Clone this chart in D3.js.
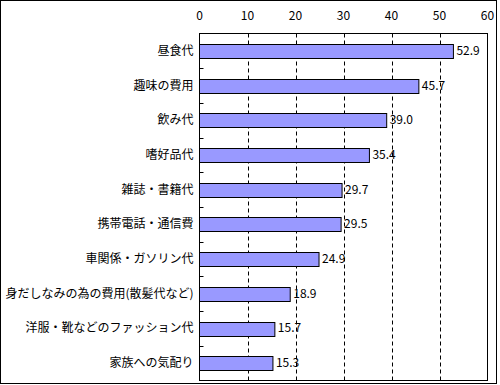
<!DOCTYPE html>
<html>
<head>
<meta charset="utf-8">
<script src="https://cdn.jsdelivr.net/npm/d3@7"></script>
<style>
  body { margin: 0; background: #fff; }
  text { font-family: "Noto Sans CJK JP", sans-serif; font-size: 12px; fill: #000; }
</style>
</head>
<body>
<svg id="chart" width="500" height="385"></svg>
<script>
const categories = ['昼食代', '趣味の費用', '飲み代', '嗜好品代', '雑誌・書籍代', '携帯電話・通信費',
  '車関係・ガソリン代', '身だしなみの為の費用(散髪代など)', '洋服・靴などのファッション代', '家族への気配り'];
const values = [52.9, 45.7, 39.0, 35.4, 29.7, 29.5, 24.9, 18.9, 15.7, 15.3];
const tickValues = [0, 10, 20, 30, 40, 50, 60];

const svg = d3.select('#chart');
const plot = {left: 199.5, right: 487.5, top: 33.5, bottom: 380.5};

// whole-image frame
svg.append('rect').attr('x', 0.5).attr('y', 0.5).attr('width', 496).attr('height', 383)
   .attr('fill', 'none').attr('stroke', '#000');

const x = d3.scaleLinear().domain([0, 60]).range([plot.left, plot.right]);
const y = d3.scaleBand().domain(categories).range([plot.top, plot.bottom]).paddingInner(0.6).paddingOuter(0.3);

// dashed grid
svg.append('g').selectAll('line').data(tickValues.slice(1, -1)).enter().append('line')
   .attr('x1', d => Math.round(x(d)) + 0.5).attr('x2', d => Math.round(x(d)) + 0.5)
   .attr('y1', plot.top).attr('y2', plot.bottom)
   .attr('stroke', '#000').attr('stroke-dasharray', '4,3');

// top axis labels
svg.append('g').selectAll('text').data(tickValues).enter().append('text')
   .attr('x', d => x(d)).attr('y', 20).attr('text-anchor', 'middle').text(d => d);

// bars
svg.append('g').selectAll('rect').data(values).enter().append('rect')
   .attr('x', x(0)).attr('y', (d, i) => Math.round(y(categories[i])) + 0.5)
   .attr('width', d => x(d) - x(0)).attr('height', Math.round(y.bandwidth()))
   .attr('fill', '#9999ff').attr('stroke', '#000');

// value labels
svg.append('g').selectAll('text').data(values).enter().append('text')
   .attr('x', d => x(d) + 3).attr('y', (d, i) => y(categories[i]) + y.bandwidth() / 2 + 4)
   .text(d => d.toFixed(1));

// plot frame
svg.append('rect').attr('x', plot.left).attr('y', plot.top)
   .attr('width', plot.right - plot.left).attr('height', plot.bottom - plot.top)
   .attr('fill', 'none').attr('stroke', '#000');

// category ticks between bands
const step = (plot.bottom - plot.top) / categories.length;
svg.append('g').selectAll('line').data(d3.range(1, categories.length)).enter().append('line')
   .attr('x1', plot.left).attr('x2', plot.left + 4)
   .attr('y1', i => Math.round(plot.top + i * step) + 0.5).attr('y2', i => Math.round(plot.top + i * step) + 0.5)
   .attr('stroke', '#000');

// category labels
svg.append('g').selectAll('text').data(categories).enter().append('text')
   .attr('x', plot.left - 6).attr('y', d => y(d) + y.bandwidth() / 2 + 4)
   .attr('text-anchor', 'end').text(d => d);
</script>
</body>
</html>
